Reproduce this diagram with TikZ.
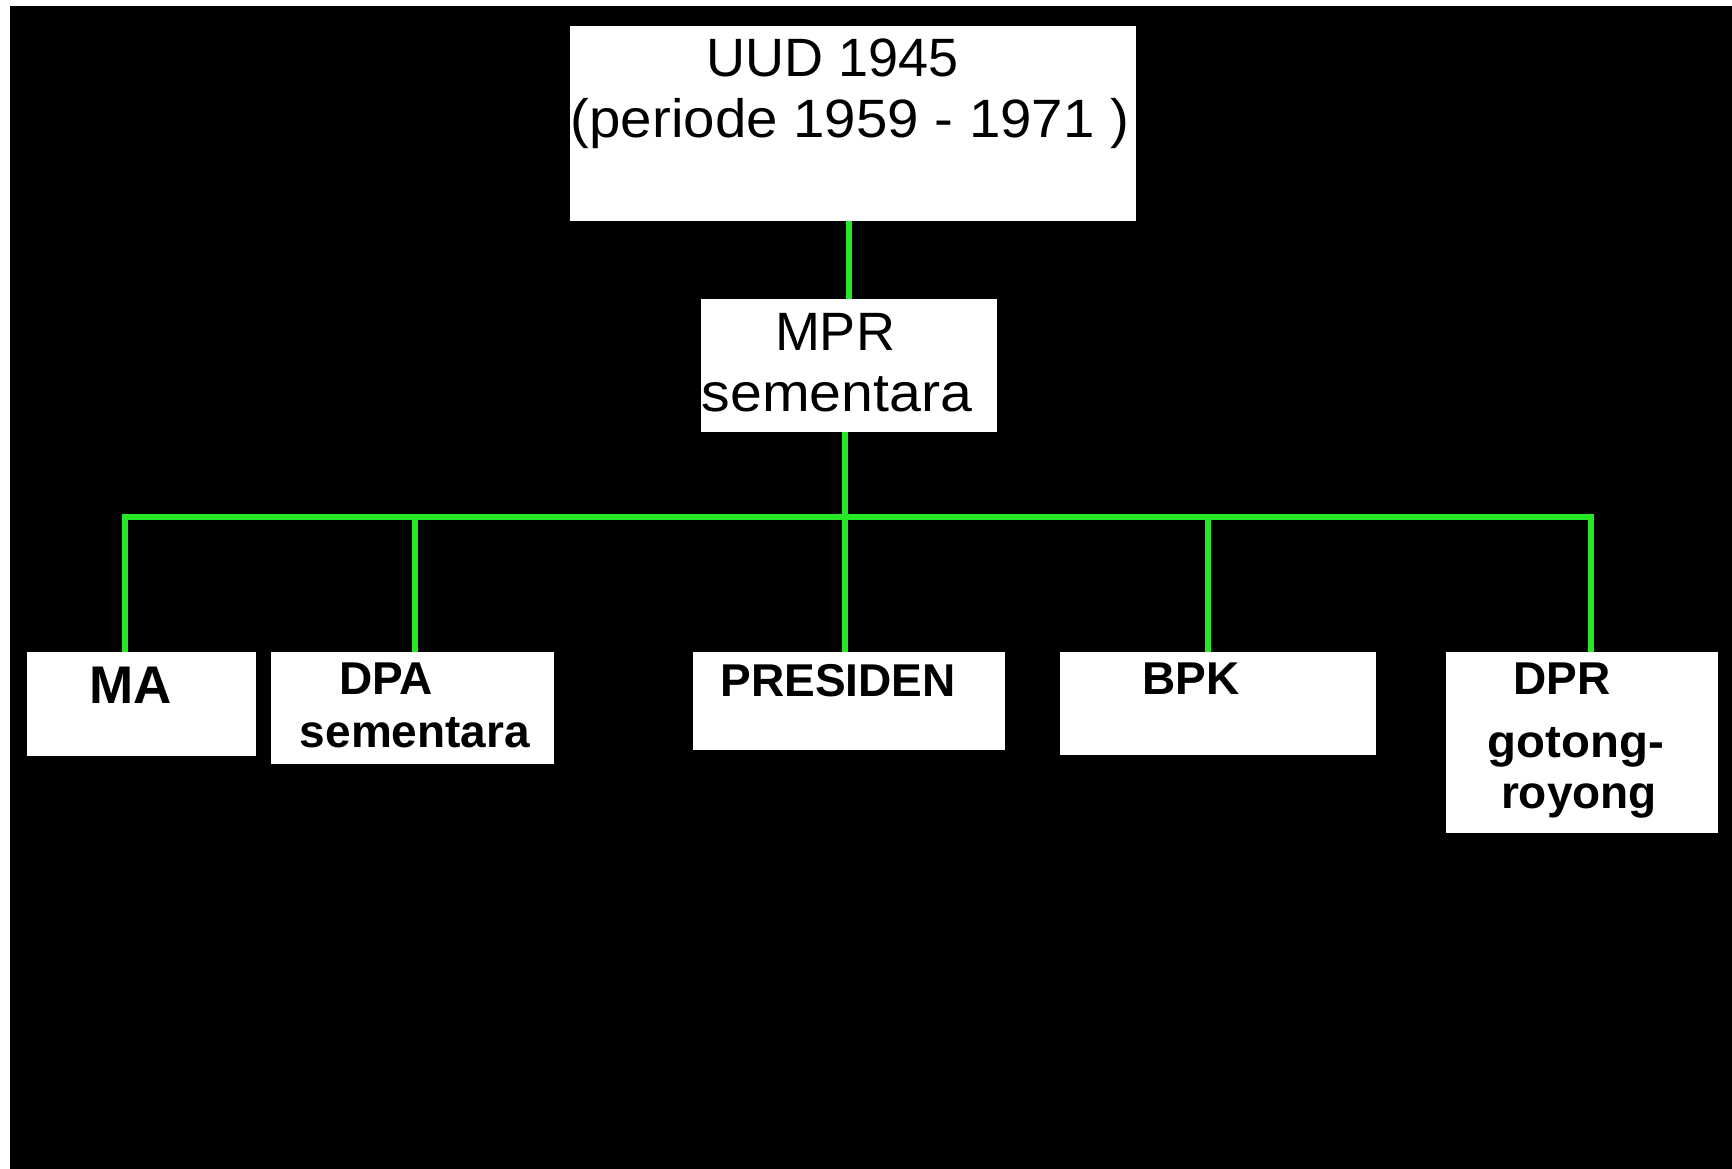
\documentclass[tikz,border=0pt]{standalone}
\usepackage{fontspec}
\setmainfont{Liberation Sans}
\definecolor{busgreen}{RGB}{38,232,38}
\begin{document}
\begin{tikzpicture}[x=1pt,y=-1pt,
  box/.style={fill=white,draw=none,inner sep=0pt,outer sep=0pt},
  txt/.style={anchor=base,inner sep=0pt,outer sep=0pt,text=black},
  toptxt/.style={txt,font=\fontsize{54}{60}\selectfont},
  bottxt/.style={txt,font=\fontsize{46}{50}\selectfont\bfseries},
  link/.style={draw=busgreen,line width=6pt}]
\useasboundingbox (0,0) rectangle (1732,1169);
\fill[white] (0,0) rectangle (1732,1169);
\fill[black] (10,6) rectangle (1732,1169);

% boxes
\node[box,minimum width=566pt,minimum height=195pt] (uud) at (853,123.5) {};
\node[box,minimum width=296pt,minimum height=133pt] (mpr) at (849,365.5) {};
\node[box,minimum width=229pt,minimum height=104pt] (ma) at (141.5,704) {};
\node[box,minimum width=283pt,minimum height=112pt] (dpa) at (412.5,708) {};
\node[box,minimum width=312pt,minimum height=98pt] (pres) at (849,701) {};
\node[box,minimum width=316pt,minimum height=103pt] (bpk) at (1218,703.5) {};
\node[box,minimum width=272pt,minimum height=181pt] (dpr) at (1582,742.5) {};

% texts
\node[toptxt] (t1) at (833,77) {UUD 1945};
\node[toptxt,xscale=1.045] (t2) at (850,138) {(periode 1959 - 1971 )};
\node[toptxt] (t3) at (835,350) {MPR};
\node[toptxt,xscale=1.06] (t4) at (837,411) {sementara};
\node[bottxt,font=\fontsize{53}{56}\selectfont\bfseries] (t5) at (131,703) {MA};
\node[bottxt] (t6) at (386,694) {DPA};
\node[bottxt] (t7) at (415,747) {sementara};
\node[bottxt] (t8) at (838,696) {PRESIDEN};
\node[bottxt] (t9) at (1191,694) {BPK};
\node[bottxt] (t10) at (1562,694) {DPR};
\node[bottxt,xscale=1.03] (t11) at (1576,757) {gotong-};
\node[bottxt] (t12) at (1579,808) {royong};

% connector coordinates
\coordinate (topx) at (849,0);
\coordinate (midx) at (845,517);
\coordinate (busL) at (125,517);
\coordinate (busR) at (1591,517);
\coordinate (jdpa) at (415,517);
\coordinate (jbpk) at (1208,517);

% connectors
\draw[link] (uud.south -| topx) -- (mpr.north -| topx);
\draw[link] (mpr.south -| midx) -- (pres.north -| midx);
\draw[link,line cap=rect] (busL) -- (busR);
\draw[link] (busL) -- (ma.north -| busL);
\draw[link] (jdpa) -- (dpa.north -| jdpa);
\draw[link] (jbpk) -- (bpk.north -| jbpk);
\draw[link] (busR) -- (dpr.north -| busR);
\end{tikzpicture}
\end{document}
